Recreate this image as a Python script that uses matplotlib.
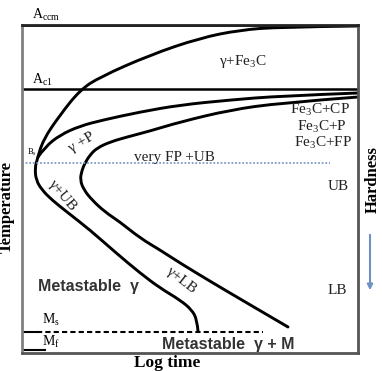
import matplotlib
matplotlib.use("Agg")
import matplotlib.pyplot as plt
from matplotlib.path import Path
from matplotlib.patches import PathPatch, FancyArrowPatch

plt.rcParams["mathtext.default"] = "regular"

W, H = 382, 371

# ---- data (log time units, temperature units) ----
# Fe3C start curve continuing down as the inner (start of bainite) C-curve
start_x = [336, 258, 218, 178, 128, 78, 58, 38, 21, 15, 13, 14, 20, 30, 45, 68, 93, 118, 138, 158, 170, 175, 176]
start_y = [327, 326, 323, 315, 298, 276, 263, 238, 213, 193, 185, 173, 163, 153, 141, 123, 101, 80, 65, 53, 43, 33, 22]

# pearlite start curve
pearl_x = [16, 23, 38, 58, 81, 118, 158, 208, 258, 336]
pearl_y = [196, 206, 218, 227, 233, 241, 248, 253, 257, 260]

# finish (outer) C-curve
fin_x = [266, 225, 191, 158, 138, 118, 98, 83, 70, 62, 58, 60, 63, 68, 75, 88, 105, 128, 158, 208, 258, 336]
fin_y = [26, 50, 70, 90, 103, 115, 131, 141, 153, 163, 173, 183, 190, 198, 205, 211, 216, 222, 231, 243, 250, 256]

A1_y = 264
Acm_y = 328
B_y = 190          # blue dotted level
B_xmax = 308
Ms_y = 21
Ms_xmax = 241
Mf_y = 3

fig = plt.figure(figsize=(W / 100, H / 100), dpi=100)
ax = fig.add_axes([22 / W, (H - 353) / H, 336 / W, 328 / H])
ax.set_xlim(0, 336)
ax.set_ylim(0, 328)
ax.set_xticks([])
ax.set_yticks([])
for s in ax.spines.values():
    s.set_linewidth(2)
    s.set_color("#555555")
ax.spines["left"].set_color("#808080")
ax.spines["top"].set_color("#222222")


def smooth(ax, xs, ys, **kw):
    pts = list(zip(xs, ys))
    verts = [pts[0]]
    codes = [Path.MOVETO]
    for i in range(1, len(pts) - 1):
        mid = ((pts[i][0] + pts[i + 1][0]) / 2, (pts[i][1] + pts[i + 1][1]) / 2)
        if i == len(pts) - 2:
            mid = pts[-1]
        verts += [pts[i], mid]
        codes += [Path.CURVE3, Path.CURVE3]
    ax.add_patch(PathPatch(Path(verts, codes), fill=False, **kw))


lk = dict(color="black", lw=2.1, capstyle="round")
smooth(ax, start_x, start_y, **lk)
smooth(ax, pearl_x, pearl_y, **lk)
smooth(ax, fin_x, fin_y, **lk)

ax.plot([0, 336], [A1_y, A1_y], color="black", lw=1.8)
ax.plot([0, 336], [Acm_y, Acm_y], color="#222222", lw=2)
ax.plot([0, B_xmax], [B_y, B_y], color="#7f9cc8", lw=1.3, ls=(0, (1, 1)))
ax.plot([0, 15], [Ms_y, Ms_y], color="black", lw=1.5)
ax.plot([15, Ms_xmax], [Ms_y, Ms_y], color="black", lw=1.5, ls=(0, (2.5, 1.5)))
ax.plot([0, 23], [Mf_y, Mf_y], color="black", lw=1.5)

serif = "Liberation Serif"
sans = "Liberation Sans"
tk = dict(family=serif, fontsize=11, color="#222222", ha="center", va="center")

ax.text(10, 338, "A$_{ccm}$", family=serif, fontsize=10, ha="left", va="center", clip_on=False)
ax.text(10, 273, "A$_{c1}$", family=serif, fontsize=10, ha="left", va="center")
ax.text(5, 201, "B$_s$", family=serif, fontsize=6, ha="left", va="center")
ax.text(221, 291, "γ+Fe$_3$C", **tk)
ax.text(298, 243, "Fe$_3$C+CP", **tk)
ax.text(300, 226, "Fe$_3$C+P", **tk)
ax.text(301, 210, "Fe$_3$C+FP", **tk)
ax.text(60, 211, "γ +P", rotation=30, **tk)
ax.text(152, 196, "very FP +UB", **tk)
ax.text(316, 166, "UB", **tk)
ax.text(315, 63, "LB", **tk)
ax.text(41, 157, "γ+UB", rotation=-50, **tk)
ax.text(160, 72, "γ+LB", rotation=-38, **tk)
ax.text(20, 33, "M$_s$", family=serif, fontsize=10, ha="left", va="center")
ax.text(20, 11, "M$_f$", family=serif, fontsize=10, ha="left", va="center")

bk = dict(family=sans, fontsize=11.5, fontweight="bold", color="#333333", ha="center", va="center")
ax.text(66, 66, "Metastable  γ", **bk)
ax.text(206, 9, "Metastable  γ + M", **bk)

fig.text(7 / W, 1 - 207 / H, "Temperature", family=serif, fontsize=12, fontweight="bold",
         rotation=90, ha="center", va="center")
fig.text(167 / W, 1 - 363 / H, "Log time", family=serif, fontsize=12.5, fontweight="bold",
         ha="center", va="center")
fig.text(373 / W, 1 - 180 / H, "Hardness", family=serif, fontsize=12, fontweight="bold",
         rotation=90, ha="center", va="center")
fig.add_artist(FancyArrowPatch((370 / W, 1 - 232 / H), (370 / W, 1 - 293 / H),
                               transform=fig.transFigure, arrowstyle="-|>", mutation_scale=8,
                               color="#7090c0", lw=1.5))

fig.savefig("out.png", dpi=100)
